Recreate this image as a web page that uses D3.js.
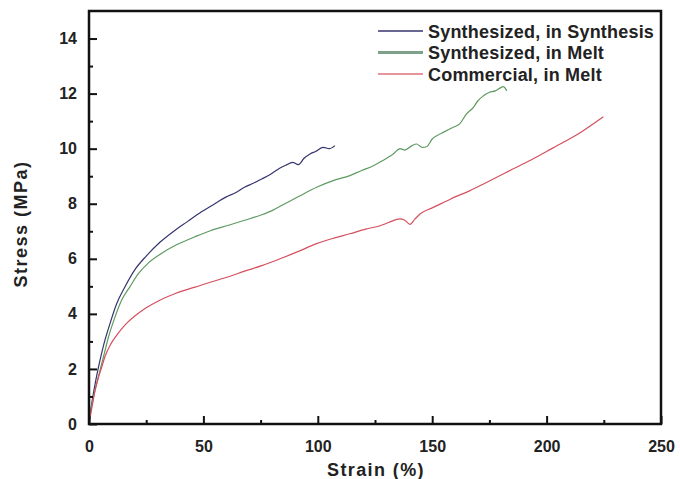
<html>
  <script src="https://d3js.org/d3.v7.min.js"></script>
  <style>
    body {
      margin: 0;
      background: white;
    }
    svg text {
      font-family: "Liberation Sans", Arial, sans-serif;
      fill: #222;
    }
  </style>
  <body onload="main()">
    <svg width="680" height="479"></svg>
    <script>
      // Synthesized, in Synthesis
      var synthStrain = [0, 0.5, 1.5, 3, 4.5, 6.5, 9, 12, 15.5, 20, 25, 31, 37.5, 43, 49, 55, 60, 64, 68, 72, 75.5, 79, 83.5, 86, 89, 91.5, 94, 96.6, 99, 102.4, 105, 107.5];
      var synthStress = [0, 0.35, 0.9, 1.6, 2.2, 2.9, 3.6, 4.35, 4.95, 5.6, 6.1, 6.6, 7.03, 7.35, 7.7, 8.0, 8.25, 8.4, 8.6, 8.75, 8.9, 9.05, 9.3, 9.4, 9.5, 9.42, 9.65, 9.81, 9.9, 10.05, 10.0, 10.11];

      // Synthesized, in Melt
      var meltStrain = [0, 0.5, 1.5, 3, 4.5, 6.5, 8.5, 11, 14.3, 18, 21.5, 26, 31.8, 38, 46.3, 53, 61, 68, 75.5, 80, 85, 92, 99.5, 107, 114, 119, 124.3, 128, 133, 136, 138, 141, 143.2, 145.5, 147.6, 150, 152, 155, 159, 162, 165, 168, 170, 172.4, 175, 177.5, 179.6, 181.1, 182.6];
      var meltStress = [0, 0.3, 0.8, 1.35, 1.85, 2.5, 3.15, 3.8, 4.5, 5.0, 5.45, 5.85, 6.2, 6.5, 6.8, 7.02, 7.22, 7.4, 7.6, 7.75, 7.97, 8.28, 8.6, 8.85, 9.02, 9.2, 9.38, 9.55, 9.81, 10.0, 9.95, 10.1, 10.17, 10.05, 10.07, 10.35, 10.47, 10.6, 10.77, 10.9, 11.26, 11.5, 11.74, 11.92, 12.05, 12.1, 12.2, 12.25, 12.1];

      // Commercial, in Melt
      var commStrain = [0, 0.5, 1.5, 2.6, 4, 5.5, 7, 9.5, 12.8, 16, 20, 25, 30.3, 38, 46.3, 53, 61, 68, 75.5, 83.5, 91, 99.5, 107, 114, 121, 127.2, 131, 135.9, 138, 140.3, 142.5, 144.7, 150, 156.3, 160, 165.1, 172, 178.2, 185, 192.7, 200, 207.3, 215, 224.8];
      var commStress = [0, 0.25, 0.7, 1.2, 1.65, 2.05, 2.45, 2.9, 3.3, 3.62, 3.92, 4.22, 4.47, 4.75, 4.97, 5.15, 5.35, 5.55, 5.75, 6.0, 6.25, 6.55, 6.75, 6.91, 7.08, 7.2, 7.32, 7.45, 7.4, 7.25, 7.45, 7.63, 7.85, 8.1, 8.25, 8.42, 8.7, 8.96, 9.25, 9.57, 9.9, 10.23, 10.6, 11.16];

      var seriesNames = ["Synthesized, in Synthesis", "Synthesized, in Melt", "Commercial, in Melt"];
      var seriesColors = ["#35356e", "#5f9a62", "#d4505e"];
      var legendColors = ["#35356e", "#7fa08a", "#e0707a"];

      var xTicks = [0, 50, 100, 150, 200, 250];
      var yTicks = [0, 2, 4, 6, 8, 10, 12, 14];

      function main() {
        var left = 89, right = 661, top = 11, bottom = 424;
        var svg = d3.select("svg");

        var x = d3.scaleLinear().domain([0, 250]).range([left, right]);
        var y = d3.scaleLinear().domain([0, 15]).range([bottom, top]);

        var series = [
          d3.zip(synthStrain, synthStress),
          d3.zip(meltStrain, meltStress),
          d3.zip(commStrain, commStress)
        ];

        var line = d3.line()
          .curve(d3.curveMonotoneX)
          .x(function (d) { return x(d[0]); })
          .y(function (d) { return y(d[1]); });

        // curves
        svg.append("g")
          .selectAll("path")
          .data(series)
          .enter()
          .append("path")
          .attr("d", line)
          .attr("fill", "none")
          .attr("stroke", function (d, i) { return seriesColors[i]; })
          .attr("stroke-width", 1.2)
          .attr("stroke-linejoin", "round");

        // frame
        svg.append("rect")
          .attr("x", left)
          .attr("y", top)
          .attr("width", right - left)
          .attr("height", bottom - top)
          .attr("fill", "none")
          .attr("stroke", "#111")
          .attr("stroke-width", 2.5);

        // minor ticks
        var xMinor = d3.axisBottom(x).tickValues([25, 75, 125, 175, 225]).tickSize(-4).tickFormat("");
        var yMinor = d3.axisLeft(y).tickValues([1, 3, 5, 7, 9, 11, 13]).tickSize(-4).tickFormat("");

        var gxm = svg.append("g").attr("transform", "translate(0," + bottom + ")").call(xMinor);
        var gym = svg.append("g").attr("transform", "translate(" + left + ",0)").call(yMinor);

        // major ticks
        var gx = svg.append("g")
          .attr("transform", "translate(0," + bottom + ")")
          .call(d3.axisBottom(x).tickValues(xTicks).tickSize(-8).tickPadding(17));
        var gy = svg.append("g")
          .attr("transform", "translate(" + left + ",0)")
          .call(d3.axisLeft(y).tickValues(yTicks).tickSize(-8).tickPadding(12));

        [gxm, gym, gx, gy].forEach(function (g) {
          g.select(".domain").remove();
          g.selectAll(".tick line").attr("stroke", "#111").attr("stroke-width", 2);
        });
        gx.selectAll(".tick text")
          .attr("font-size", 16)
          .attr("font-weight", "bold")
          .attr("fill", "#222");
        gy.selectAll(".tick text")
          .attr("font-size", 16)
          .attr("font-weight", "bold")
          .attr("fill", "#222");

        // axis titles
        svg.append("text")
          .attr("x", 376)
          .attr("y", 476)
          .attr("text-anchor", "middle")
          .attr("font-size", 18)
          .attr("font-weight", "bold")
          .attr("letter-spacing", 1.4)
          .text("Strain (%)");

        svg.append("text")
          .attr("transform", "translate(27,224) rotate(-90)")
          .attr("text-anchor", "middle")
          .attr("font-size", 18)
          .attr("font-weight", "bold")
          .attr("letter-spacing", 1.5)
          .text("Stress (MPa)");

        // legend
        var legend = svg.append("g")
          .selectAll("g")
          .data(seriesNames)
          .enter()
          .append("g")
          .attr("transform", function (d, i) { return "translate(378," + (31 + i * 21.5) + ")"; });

        legend.append("line")
          .attr("x1", 0)
          .attr("x2", 45)
          .attr("stroke", function (d, i) { return legendColors[i]; })
          .attr("stroke-width", function (d, i) { return i == 1 ? 3 : 1.3; });

        legend.append("text")
          .attr("x", 50)
          .attr("y", 6.5)
          .attr("font-size", 18)
          .attr("font-weight", "bold")
          .attr("letter-spacing", 0.2)
          .text(function (d) { return d; });
      }
    </script>
  </body>
</html>
